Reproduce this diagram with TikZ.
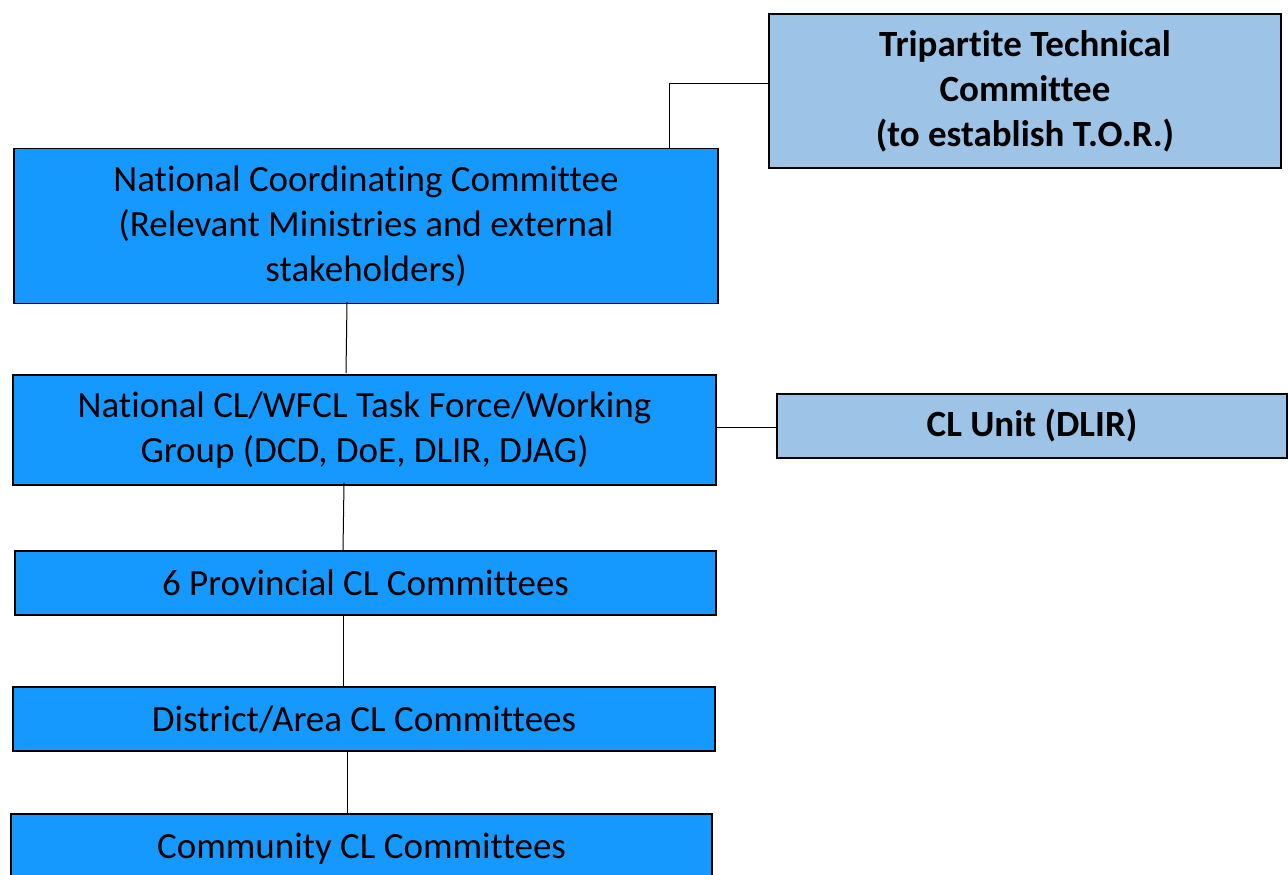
\documentclass[tikz,border=0pt]{standalone}
\usepackage{fontspec}
\setmainfont[Ligatures=NoCommon]{Carlito}
\definecolor{mainblue}{RGB}{22,153,255}
\definecolor{lightblue}{RGB}{157,195,230}
\begin{document}
\begin{tikzpicture}[x=1pt,y=-1pt,
  box/.style={draw=black, line width=1.6pt, fill=mainblue, inner sep=0pt,
    align=center, font=\fontsize{37}{45}\selectfont},
  lbox/.style={box, fill=lightblue, font=\fontsize{37}{45}\selectfont\bfseries},
  link/.style={draw=black, line width=1pt}]
\useasboundingbox (0,0) rectangle (1288,875);
\clip (0,0) rectangle (1288,875);
\node[lbox, minimum width=512, minimum height=154] (ttc) at (1025,91) {Tripartite Technical\\Committee\\(to establish T.O.R.)};
\node[box, minimum width=704, minimum height=155] (ncc) at (366,226) {National Coordinating Committee\\(Relevant Ministries and external\\stakeholders)};
\node[box, minimum width=703, minimum height=110] (tf) at (364.5,430) {National CL/WFCL Task Force/Working\\Group (DCD, DoE, DLIR, DJAG)};
\node[lbox, minimum width=510, minimum height=64] (clu) at (1032,426) {CL Unit (DLIR)};
\node[box, minimum width=701, minimum height=64] (prov) at (365.5,583) {6 Provincial CL Committees};
\node[box, minimum width=702, minimum height=64] (dist) at (364,719) {District/Area CL Committees};
\node[box, minimum width=701, minimum height=70] (comm) at (361.5,849) {Community CL Committees};
\coordinate (ttcjoin) at (669,84);
\draw[link] (ncc.north -| ttcjoin) -- (ttcjoin) -- (ttcjoin -| ttc.west);
\draw[link] (347,302) -- (346,373);
\draw[link] (tf.east |- 0,427) -- (clu.west |- 0,427);
\draw[link] (344,483) -- (343,550);
\draw[link] (343,614) -- (343,686);
\draw[link] (347,750) -- (347,813);
\end{tikzpicture}
\end{document}
